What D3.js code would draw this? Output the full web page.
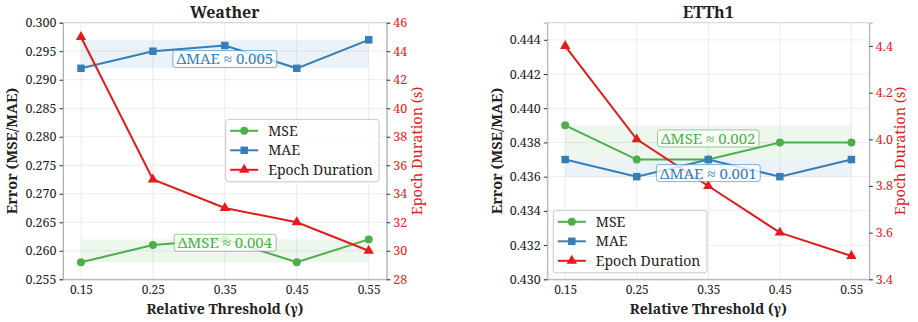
<!DOCTYPE html>
<html>
<head>
<meta charset="utf-8">
<script src="https://cdn.jsdelivr.net/npm/d3@7"></script>
<style>
  body { margin: 0; background: #fff; }
  svg { display: block; }
  svg text { font-family: "Noto Serif", "Liberation Serif", serif; }
</style>
</head>
<body>
<div id="chart"></div>
<script>
// thresholds (x values)
var thresholds = [0.15, 0.25, 0.35, 0.45, 0.55];

// Weather dataset
var weatherMSE = [0.258, 0.261, 0.262, 0.258, 0.262];
var weatherMAE = [0.292, 0.295, 0.296, 0.292, 0.297];
var weatherEpoch = [45, 35, 33, 32, 30];
var weatherErrTicks = [0.255, 0.260, 0.265, 0.270, 0.275, 0.280, 0.285, 0.290, 0.295, 0.300];
var weatherEpochTicks = [28, 30, 32, 34, 36, 38, 40, 42, 44, 46];

// ETTh1 dataset
var etthMSE = [0.439, 0.437, 0.437, 0.438, 0.438];
var etthMAE = [0.437, 0.436, 0.437, 0.436, 0.437];
var etthEpoch = [4.4, 4.0, 3.8, 3.6, 3.5];
var etthErrTicks = [0.430, 0.432, 0.434, 0.436, 0.438, 0.440, 0.442, 0.444];
var etthEpochTicks = [3.4, 3.6, 3.8, 4.0, 4.2, 4.4];

var seriesNames = ["MSE", "MAE", "Epoch Duration"];
var colors = {mse: "#4daf4a", mae: "#377eb8", epoch: "#e41a1c"};

var svg = d3.select("#chart").append("svg")
    .attr("width", 918)
    .attr("height", 322);

function drawPanel(cfg) {
    var top = 22.7, bottom = 279.3;

    var x = d3.scaleLinear().domain([0.125, 0.575]).range([cfg.left, cfg.right]);
    var y = d3.scaleLinear().domain(cfg.errDomain).range([bottom, top]);
    var y2 = d3.scaleLinear().domain(cfg.epochDomain).range([bottom, top]);

    var g = svg.append("g");

    // grid
    g.append("g").selectAll("line.gx")
        .data(thresholds).enter().append("line")
        .attr("x1", function(d) { return x(d); })
        .attr("x2", function(d) { return x(d); })
        .attr("y1", top).attr("y2", bottom)
        .attr("stroke", "#e8e8e8").attr("stroke-width", 0.8);
    g.append("g").selectAll("line.gy")
        .data(cfg.errTicks).enter().append("line")
        .attr("x1", cfg.left).attr("x2", cfg.right)
        .attr("y1", function(d) { return y(d); })
        .attr("y2", function(d) { return y(d); })
        .attr("stroke", "#e8e8e8").attr("stroke-width", 0.8);

    // bands
    function band(vals, color) {
        g.append("rect")
            .attr("x", x(thresholds[0]))
            .attr("width", x(thresholds[thresholds.length - 1]) - x(thresholds[0]))
            .attr("y", y(d3.max(vals)))
            .attr("height", y(d3.min(vals)) - y(d3.max(vals)))
            .attr("fill", color).attr("fill-opacity", 0.1);
    }
    band(cfg.mse, colors.mse);
    band(cfg.mae, colors.mae);

    // frame
    g.append("rect")
        .attr("x", cfg.left).attr("y", top)
        .attr("width", cfg.right - cfg.left).attr("height", bottom - top)
        .attr("fill", "none").attr("stroke", "#d0d0d0").attr("stroke-width", 1);

    // axes
    var xAxis = d3.axisBottom(x).tickValues(thresholds).tickSize(0).tickPadding(6.5)
        .tickFormat(d3.format(".2f"));
    var yAxis = d3.axisLeft(y).tickValues(cfg.errTicks).tickSize(3.5).tickPadding(3)
        .tickFormat(d3.format(".3f"));
    var y2Axis = d3.axisRight(y2).tickValues(cfg.epochTicks).tickSize(3.5).tickPadding(3)
        .tickFormat(cfg.epochFormat);

    var gx = g.append("g").attr("transform", "translate(0," + bottom + ")").call(xAxis);
    var gy = g.append("g").attr("transform", "translate(" + cfg.left + ",0)").call(yAxis);
    var gy2 = g.append("g").attr("transform", "translate(" + cfg.right + ",0)").call(y2Axis);
    [gx, gy, gy2].forEach(function(a) {
        a.attr("font-family", null);
        a.select(".domain").attr("stroke", "#b0b0b0");
        a.selectAll("text").attr("font-size", 12.5).attr("fill", "#222");
        a.selectAll(".tick line").attr("stroke", "#333");
    });
    gx.selectAll("text").attr("font-size", 12);
    gy2.selectAll("text").attr("fill", colors.epoch);

    // lines
    function series(vals, scale, color, marker) {
        var line = d3.line()
            .x(function(d, i) { return x(thresholds[i]); })
            .y(function(d) { return scale(d); });
        g.append("path").attr("d", line(vals))
            .attr("fill", "none").attr("stroke", color).attr("stroke-width", 2);
        g.append("g").selectAll("path")
            .data(vals).enter().append("path")
            .attr("transform", function(d, i) { return "translate(" + x(thresholds[i]) + "," + scale(d) + ")"; })
            .attr("d", d3.symbol().type(marker).size(marker === d3.symbolTriangle ? 46 : (marker === d3.symbolSquare ? 56 : 50)))
            .attr("fill", color);
    }
    series(cfg.mse, y, colors.mse, d3.symbolCircle);
    series(cfg.mae, y, colors.mae, d3.symbolSquare);
    series(cfg.epoch, y2, colors.epoch, d3.symbolTriangle);

    // annotations
    function annot(vals, label, color, dy) {
        var cx = x(thresholds[2]);
        var cy = y((d3.max(vals) + d3.min(vals)) / 2) + dy;
        var ag = g.append("g");
        var t = ag.append("text").attr("x", cx).attr("y", cy)
            .attr("text-anchor", "middle").attr("dy", "0.36em")
            .attr("font-size", 15).attr("fill", color).text(label);
        var bb = t.node().getBBox();
        ag.insert("rect", "text")
            .attr("x", bb.x - 3.5).attr("y", cy - 8.5)
            .attr("width", bb.width + 7).attr("height", 17)
            .attr("rx", 2.5)
            .attr("fill", "#fff").attr("fill-opacity", 0.8)
            .attr("stroke", color).attr("stroke-opacity", 0.6).attr("stroke-width", 1);
    }
    annot(cfg.mae, "\u0394MAE \u2248 " + d3.format(".3f")(d3.max(cfg.mae) - d3.min(cfg.mae)), colors.mae, cfg.maeDy);
    annot(cfg.mse, "\u0394MSE \u2248 " + d3.format(".3f")(d3.max(cfg.mse) - d3.min(cfg.mse)), colors.mse, cfg.mseDy);

    // legend
    var lg = g.append("g").attr("transform", "translate(" + cfg.legX + "," + cfg.legY + ")");
    lg.append("rect").attr("width", cfg.legW).attr("height", 62.5).attr("rx", 3)
        .attr("fill", "#fff").attr("fill-opacity", 0.85)
        .attr("stroke", "#c8c8c8").attr("stroke-width", 1);
    var legColors = [colors.mse, colors.mae, colors.epoch];
    var legMarkers = [d3.symbolCircle, d3.symbolSquare, d3.symbolTriangle];
    seriesNames.forEach(function(name, i) {
        var ry = 11.5 + i * 19.5;
        lg.append("line").attr("x1", 4.5).attr("x2", 32.5).attr("y1", ry).attr("y2", ry)
            .attr("stroke", legColors[i]).attr("stroke-width", 2);
        lg.append("path").attr("transform", "translate(18.5," + ry + ")")
            .attr("d", d3.symbol().type(legMarkers[i]).size(i === 2 ? 46 : (i === 1 ? 56 : 50)))
            .attr("fill", legColors[i]);
        lg.append("text").attr("x", 42.5).attr("y", ry).attr("dy", "0.36em")
            .attr("font-size", 14).attr("fill", "#222").text(name);
    });

    // titles
    var mid = (cfg.left + cfg.right) / 2;
    g.append("text").attr("x", mid).attr("y", 12.5).attr("dy", "0.36em")
        .attr("text-anchor", "middle").attr("font-size", 16).attr("font-weight", "bold")
        .attr("fill", "#222").text(cfg.title);
    g.append("text").attr("x", mid).attr("y", 309).attr("dy", "0.36em")
        .attr("text-anchor", "middle").attr("font-size", 14).attr("font-weight", "bold")
        .attr("fill", "#222").text("Relative Threshold (\u03b3)");
    g.append("text")
        .attr("transform", "translate(" + (cfg.left - 51) + "," + ((top + bottom) / 2) + ") rotate(-90)")
        .attr("dy", "0.36em")
        .attr("text-anchor", "middle").attr("font-size", 14.5).attr("font-weight", "bold")
        .attr("fill", "#222").text("Error (MSE/MAE)");
    g.append("text")
        .attr("transform", "translate(" + (cfg.right + 30) + "," + ((top + bottom) / 2) + ") rotate(-90)")
        .attr("dy", "0.36em")
        .attr("text-anchor", "middle").attr("font-size", 14.5)
        .attr("fill", colors.epoch).text("Epoch Duration (s)");
}

drawPanel({
    title: "Weather", left: 63, right: 386.7,
    errDomain: [0.255, 0.300], epochDomain: [28, 46],
    errTicks: weatherErrTicks, epochTicks: weatherEpochTicks, epochFormat: d3.format("d"),
    mse: weatherMSE, mae: weatherMAE, epoch: weatherEpoch,
    maeDy: 5, mseDy: -8,
    legX: 225.7, legY: 119.3, legW: 153.3
});

drawPanel({
    title: "ETTh1", left: 547.3, right: 869.3,
    errDomain: [0.430, 0.445], epochDomain: [3.4, 4.5],
    errTicks: etthErrTicks, epochTicks: etthEpochTicks, epochFormat: d3.format(".1f"),
    mse: etthMSE, mae: etthMAE, epoch: etthEpoch,
    maeDy: 5, mseDy: -4,
    legX: 553.3, legY: 210.3, legW: 153.7
});
</script>
</body>
</html>
